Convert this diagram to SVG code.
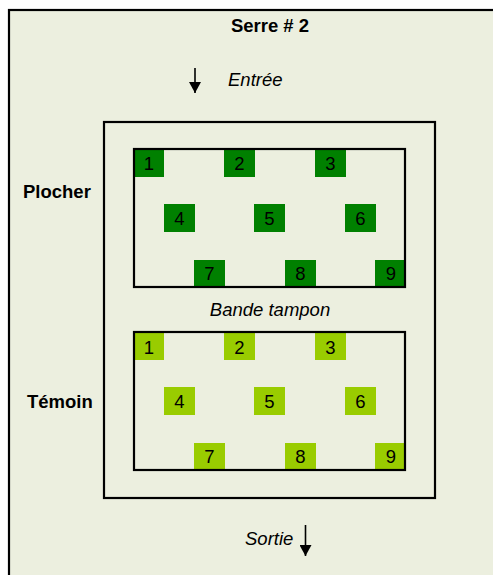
<svg xmlns="http://www.w3.org/2000/svg" width="493" height="575" viewBox="0 0 493 575">
<style>
  .t{font-family:"Liberation Sans",Arial,sans-serif;font-size:18.5px;fill:#000}
  .b{font-weight:bold}
  .i{font-style:italic}
  .n{font-family:"Liberation Sans",Arial,sans-serif;font-size:18.5px;fill:#000;text-anchor:middle}
  .frame{fill:none;stroke:#000;stroke-width:2.2}
  .dk{fill:#008000}
  .lt{fill:#99CC00}
  .ar{stroke:#000;stroke-width:1.6;fill:none}
</style>
<defs>
  <marker id="ah" viewBox="0 0 11 12" markerWidth="11" markerHeight="12" refX="11" refY="6" orient="auto" markerUnits="userSpaceOnUse">
    <path d="M0,0 L11,6 L0,12 Z" fill="#000"/>
  </marker>
</defs>
<rect x="0" y="0" width="493" height="575" fill="#fff"/>
<g id="serre">
  <rect x="9" y="10" width="520" height="600" fill="#ECEFDF" stroke="#000" stroke-width="2.2"/>
  <text class="t b" x="270" y="32" text-anchor="middle">Serre # 2</text>
</g>
<g id="bande">
  <rect class="frame" x="104" y="122" width="331" height="376"/>
  <text class="t i" x="270" y="316" text-anchor="middle">Bande tampon</text>
</g>
<g id="plocher">
  <text class="t b" x="23" y="198">Plocher</text>
  <g id="plocher-plots">
    <rect class="dk" x="134" y="149" width="30" height="28"/><text class="n" x="149" y="170">1</text>
    <rect class="dk" x="224" y="149" width="31" height="28"/><text class="n" x="239.5" y="170">2</text>
    <rect class="dk" x="315" y="149" width="31" height="28"/><text class="n" x="330.5" y="170">3</text>
    <rect class="dk" x="164" y="204" width="31" height="28"/><text class="n" x="179.5" y="225">4</text>
    <rect class="dk" x="254" y="204" width="31" height="28"/><text class="n" x="269.5" y="225">5</text>
    <rect class="dk" x="345" y="204" width="31" height="28"/><text class="n" x="360.5" y="225">6</text>
    <rect class="dk" x="194" y="260" width="31" height="27"/><text class="n" x="209.5" y="280">7</text>
    <rect class="dk" x="285" y="260" width="31" height="27"/><text class="n" x="300.5" y="280">8</text>
    <rect class="dk" x="375" y="260" width="30" height="27"/><text class="n" x="391" y="280">9</text>
  </g>
  <rect class="frame" x="134" y="149" width="271" height="138"/>
</g>
<g id="temoin">
  <text class="t b" x="27" y="408">Témoin</text>
  <g id="temoin-plots">
    <rect class="lt" x="134" y="333" width="30" height="27"/><text class="n" x="149" y="354">1</text>
    <rect class="lt" x="224" y="333" width="31" height="27"/><text class="n" x="239.5" y="354">2</text>
    <rect class="lt" x="315" y="333" width="31" height="27"/><text class="n" x="330.5" y="354">3</text>
    <rect class="lt" x="164" y="387" width="31" height="28"/><text class="n" x="179.5" y="408">4</text>
    <rect class="lt" x="254" y="387" width="31" height="28"/><text class="n" x="269.5" y="408">5</text>
    <rect class="lt" x="345" y="387" width="31" height="28"/><text class="n" x="360.5" y="408">6</text>
    <rect class="lt" x="194" y="443" width="31" height="27"/><text class="n" x="209.5" y="463">7</text>
    <rect class="lt" x="285" y="443" width="31" height="27"/><text class="n" x="300.5" y="463">8</text>
    <rect class="lt" x="375" y="443" width="30" height="27"/><text class="n" x="391" y="463">9</text>
  </g>
  <rect class="frame" x="134" y="332" width="271" height="138"/>
</g>
<g id="entree">
  <text class="t i" x="228" y="86">Entrée</text>
</g>
<g id="sortie">
  <text class="t i" x="245" y="545">Sortie</text>
</g>
<g id="connectors">
  <line class="ar" x1="195" y1="68" x2="195" y2="93" marker-end="url(#ah)"/>
  <line class="ar" x1="305.5" y1="525" x2="305.5" y2="556" marker-end="url(#ah)"/>
</g>
</svg>
